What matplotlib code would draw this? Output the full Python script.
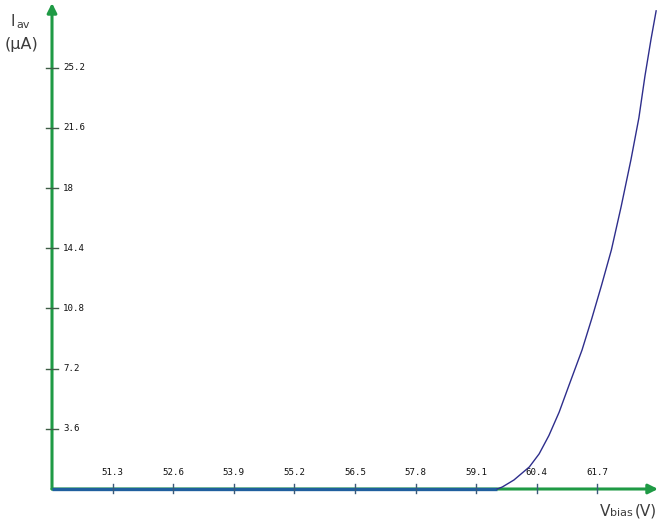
import matplotlib
matplotlib.use("Agg")
import matplotlib.pyplot as plt

# I-V curve
v_bias = [50.0, 59.55, 59.66, 59.91, 60.24, 60.45, 60.66, 60.88, 61.09,
          61.37, 61.58, 61.79, 62.00, 62.21, 62.42, 62.59, 62.72, 62.85, 62.96]
i_av = [0.0, 0.0, 0.12, 0.54, 1.32, 2.1, 3.2, 4.6, 6.2,
        8.31, 10.2, 12.2, 14.3, 16.9, 19.7, 22.2, 24.7, 26.9, 28.6]

x_ticks = [51.3, 52.6, 53.9, 55.2, 56.5, 57.8, 59.1, 60.4, 61.7]
y_ticks = [3.6, 7.2, 10.8, 14.4, 18, 21.6, 25.2]
y_tick_labels = ["3.6", "7.2", "10.8", "14.4", "18", "21.6", "25.2"]

green = "#1f9a45"
flat_blue = "#1f5f9e"
curve_blue = "#2e2e8c"
title_grey = "#3c3c3c"

W, H = 659, 526
fig = plt.figure(figsize=(W / 100, H / 100), dpi=100)
fig.patch.set_facecolor("white")

x0, x1 = 52, 658
y0, y1 = 489, 3
ax = fig.add_axes([x0 / W, (H - y0) / H, (x1 - x0) / W, (y0 - y1) / H])
ax.set_xlim(50, 63)
ax.set_ylim(0, 29.07)
ax.axis("off")

# axes with arrows
ax.annotate("", xy=(1.0, 0), xytext=(0, 0), xycoords="axes fraction",
            arrowprops=dict(arrowstyle="-|>", color=green, lw=2.2,
                            mutation_scale=14, shrinkA=0, shrinkB=0))
ax.annotate("", xy=(0, 1.0), xytext=(0, 0), xycoords="axes fraction",
            arrowprops=dict(arrowstyle="-|>", color=green, lw=2.2,
                            mutation_scale=14, shrinkA=0, shrinkB=0))

# data: flat part on top of the x axis, then the rising branch
flat_v = [v for v, i in zip(v_bias, i_av) if i == 0]
flat_i = [0 for _ in flat_v]
ax.plot(flat_v, flat_i, color=flat_blue, lw=2.4, solid_capstyle="butt",
        clip_on=False, zorder=3)
ax.plot(v_bias[1:], i_av[1:], color=curve_blue, lw=1.0, clip_on=False, zorder=4)

# ticks and tick labels
for xt in x_ticks:
    ax.plot([xt, xt], [-0.25, 0.3], color="#3a5a7a", lw=1.0, clip_on=False, zorder=5)
    ax.text(xt, 0.72, f"{xt}", ha="center", va="bottom", fontsize=6.6,
            family="DejaVu Sans Mono", color="#111111")
for yt, lab in zip(y_ticks, y_tick_labels):
    ax.plot([49.88, 50.12], [yt, yt], color="#3e5e46", lw=1.0, clip_on=False, zorder=5)
    ax.text(50.24, yt, lab, ha="left", va="center", fontsize=6.6,
            family="DejaVu Sans Mono", color="#111111")

# axis titles
fig.text(10 / W, 1 - 22 / H, "I", fontsize=11, color=title_grey, va="center", ha="left")
fig.text(16 / W, 1 - 25 / H, "av", fontsize=8, color=title_grey, va="center", ha="left")
fig.text(5 / W, 1 - 45 / H, "(μA)", fontsize=11.5, color=title_grey, va="center", ha="left")

fig.text(600 / W, 1 - 511 / H, "V", fontsize=11, color=title_grey, va="center", ha="left")
fig.text(610 / W, 1 - 513 / H, "bias", fontsize=8, color=title_grey, va="center", ha="left")
fig.text(635 / W, 1 - 511 / H, "(V)", fontsize=11, color=title_grey, va="center", ha="left")

fig.savefig("out.png", dpi=100)
